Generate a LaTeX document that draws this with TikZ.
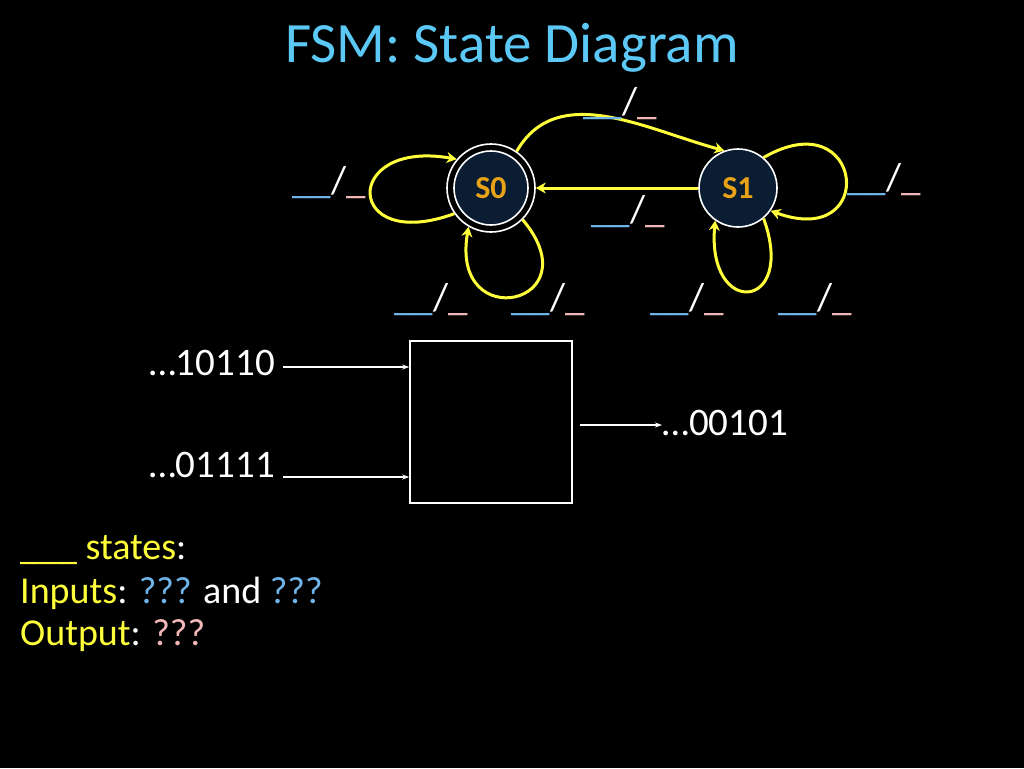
\documentclass[tikz,border=0pt]{standalone}
\usepackage{fontspec}
\setmainfont{Carlito}
\usetikzlibrary{arrows.meta}
\definecolor{ttl}{HTML}{5BC8F5}
\definecolor{lb}{HTML}{6FB4E8}
\definecolor{pk}{HTML}{F2B8B8}
\definecolor{yl}{HTML}{FFFF3C}
\definecolor{gold}{HTML}{E8A317}
\definecolor{navy}{HTML}{0B1D33}
\tikzset{
 st/.style={circle,draw=white,line width=1.6pt,fill=navy,minimum size=74pt,inner sep=0pt,text=gold,font=\fontsize{32}{34}\selectfont\bfseries},
 arr/.style={draw=yl,line width=3pt,-{Stealth[length=10pt,width=11pt]}},
 lbl/.style={font=\fontsize{39}{40}\selectfont,inner sep=0pt},
 wa/.style={draw=white,line width=1.2pt,-{Stealth[length=7pt,width=5pt]}},
 big/.style={font=\fontsize{39}{44}\selectfont,text=white,inner sep=0pt},
 bt/.style={font=\fontsize{38}{44}\selectfont,text=yl,inner sep=0pt,anchor=west}
}
\newcommand{\tl}{{\color{lb}\_\_}{\color{white}/}{\color{pk}\_}}
\begin{document}
\begin{tikzpicture}[x=1pt,y=-1pt]
\fill[black] (0,0) rectangle (1024,768);
\useasboundingbox (0,0) rectangle (1024,768);
\node[font=\fontsize{57}{60}\selectfont,text=ttl] (title) at (512,48) {FSM: State Diagram};
\node[circle,draw=white,line width=1.6pt,minimum size=88pt,inner sep=0pt] (s0o) at (491,188) {};
\node[st] (s0) at (491,188) {S0};
\node[st,minimum size=78pt] (s1) at (738,188) {S1};
% transitions
\draw[arr] (s0o.55) to[out=60,in=165] (s1.110);
\draw[arr] (s1) -- (s0o);
\draw[arr] (s0o.-145) to[out=-160,in=170,looseness=5.5] (s0o.140);
\draw[arr] (s0o.-45) to[out=-50,in=-100,looseness=5.2] (s0o.-120);
\draw[arr] (s1.50) to[out=30,in=-20,looseness=5.5] (s1.-35);
\draw[arr] (s1.-50) to[out=-70,in=-95,looseness=5.2] (s1.-125);
% labels
\node[lbl] (l1) at (620,104) {\tl};
\node[lbl] (l2) at (329,183) {\tl};
\node[lbl] (l3) at (884,180) {\tl};
\node[lbl] (l4) at (628,212) {\tl};
\node[lbl] (l5) at (431,300) {\tl};
\node[lbl] (l6) at (548,300) {\tl};
\node[lbl] (l7) at (687,300) {\tl};
\node[lbl] (l8) at (815,300) {\tl};
% block
\node[draw=white,line width=1.6pt,minimum width=162pt,minimum height=162pt,inner sep=0pt] (box) at (491,422) {};
\node[big,anchor=east] (i1) at (275,363) {\dots10110};
\node[big,anchor=east] (i2) at (275,465) {\dots01111};
\node[big,anchor=west] (o1) at (662,423) {\dots00101};
\coordinate (a1) at (283,367);
\coordinate (a2) at (283,477);
\coordinate (a3) at (580,425);
\draw[wa] (a1) -- (a1 -| box.west);
\draw[wa] (a2) -- (a2 -| box.west);
\draw[wa] (a3) -- (a3 -| o1.west);
% bottom text
\node[bt] (t1) at (20,550) {\_\_\_ states{\color{white}:}};
\node[bt] (t2) at (20,593) {Inputs{\color{white}:} {\color{lb}???} {\color{white}and} {\color{lb}???}};
\node[bt] (t3) at (20,636) {Output{\color{white}:} {\color{pk}???}};
\end{tikzpicture}
\end{document}
